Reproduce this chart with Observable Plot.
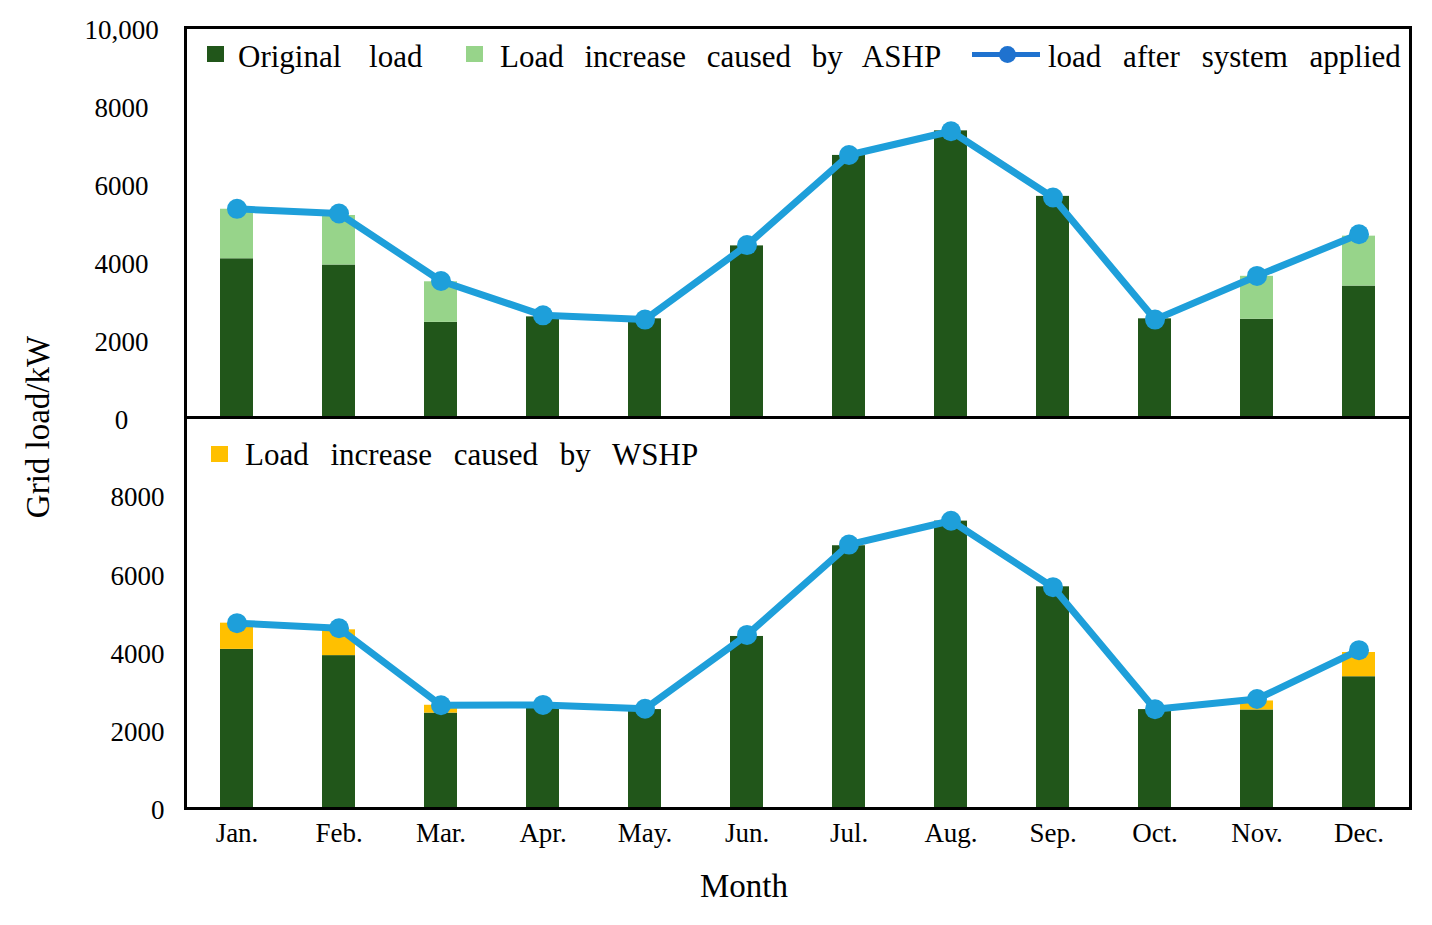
<!DOCTYPE html>
<html>
<head>
<meta charset="utf-8">
<script src="https://cdn.jsdelivr.net/npm/d3@7"></script>
<script src="https://cdn.jsdelivr.net/npm/@observablehq/plot@0.6"></script>
<style>
  html, body { margin: 0; padding: 0; background: #fff; }
  #chart { position: relative; width: 1432px; height: 925px; background: #fff; font-family: 'Liberation Serif', 'DejaVu Serif', serif; color: #000; }
  #chart svg { position: absolute; left: 0; top: 0; }
  .lbl { position: absolute; white-space: nowrap; font-family: 'Liberation Serif', 'DejaVu Serif', serif; }
  .leg { font-size: 31px; line-height: 31px; word-spacing: 13px; }
  .sw { position: absolute; width: 17px; height: 16px; }
</style>
</head>
<body>
<div id="chart"></div>
<script>
// ---- data ----
const months = ["Jan.", "Feb.", "Mar.", "Apr.", "May.", "Jun.", "Jul.", "Aug.", "Sep.", "Oct.", "Nov.", "Dec."];
const originalLoad = [4070, 3910, 2440, 2580, 2530, 4400, 6720, 7350, 5670, 2530, 2520, 3370];
const ashpIncrease = [1270, 1270, 1040, 0, 0, 0, 0, 0, 0, 0, 1100, 1280];
const ashpLoad = [5350, 5230, 3500, 2620, 2510, 4420, 6730, 7340, 5640, 2510, 3630, 4700];
const wshpIncrease = [670, 660, 200, 0, 0, 0, 0, 0, 0, 0, 230, 620];
const wshpLoad = [4740, 4610, 2640, 2650, 2550, 4440, 6750, 7360, 5660, 2540, 2800, 4050];

const topTicks = [0, 2000, 4000, 6000, 8000, 10000];
const bottomTicks = [0, 2000, 4000, 6000, 8000];

const seriesNames = ["Original load", "Load increase caused by ASHP", "Load increase caused by WSHP", "load after system applied"];
const colors = {
  original: "#21561a",
  ashp: "#97d48a",
  wshp: "#ffc000",
  line: "#1e9fda",
  legendLine: "#1f72cf"
};

// ---- tables ----
const topBars = months.flatMap((m, i) => [
  {month: m, series: seriesNames[0], value: originalLoad[i]},
  {month: m, series: seriesNames[1], value: ashpIncrease[i]}
]);
const bottomBars = months.flatMap((m, i) => [
  {month: m, series: seriesNames[0], value: originalLoad[i]},
  {month: m, series: seriesNames[2], value: wshpIncrease[i]}
]);
const topLine = months.map((m, i) => ({month: m, value: ashpLoad[i]}));
const bottomLine = months.map((m, i) => ({month: m, value: wshpLoad[i]}));

const W = 1432, H = 925;
const FONT = "'Liberation Serif', 'DejaVu Serif', serif";
const common = {
  width: W, height: H, marginLeft: 185, marginRight: 22,
  style: {fontFamily: FONT, fontSize: "27px", background: "transparent", overflow: "visible", color: "#000"}
};
const xScale = {domain: months, paddingInner: 0.68, paddingOuter: 0.34, axis: null};
const fmt = d => d === 10000 ? "10,000" : String(d);

const topPlot = Plot.plot({
  ...common,
  marginTop: 27, marginBottom: H - 417,
  x: xScale,
  y: {domain: [0, 10000], axis: null},
  color: {domain: [seriesNames[0], seriesNames[1]], range: [colors.original, colors.ashp]},
  marks: [
    Plot.barY(topBars, {x: "month", y: "value", fill: "series"}),
    Plot.line(topLine, {x: "month", y: "value", stroke: colors.line, strokeWidth: 7}),
    Plot.dot(topLine, {x: "month", y: "value", fill: colors.line, r: 10}),
    Plot.axisY(topTicks, {tickSize: 0, tickPadding: 64, textAnchor: "middle", tickFormat: fmt, label: null, fontSize: 27, dy: 3}),
    Plot.frame({stroke: "#000", strokeWidth: 3})
  ]
});

const bottomPlot = Plot.plot({
  ...common,
  marginTop: 417, marginBottom: H - 808,
  x: xScale,
  y: {domain: [0, 10000], axis: null},
  color: {domain: [seriesNames[0], seriesNames[2]], range: [colors.original, colors.wshp]},
  marks: [
    Plot.barY(bottomBars, {x: "month", y: "value", fill: "series"}),
    Plot.line(bottomLine, {x: "month", y: "value", stroke: colors.line, strokeWidth: 7}),
    Plot.dot(bottomLine, {x: "month", y: "value", fill: colors.line, r: 10}),
    Plot.axisY(bottomTicks, {tickSize: 0, tickPadding: 21, tickFormat: fmt, label: null, fontSize: 27, dy: 2}),
    Plot.axisX({tickSize: 0, tickPadding: 14, label: null, fontSize: 27}),
    Plot.frame({stroke: "#000", strokeWidth: 3})
  ]
});

const chart = document.getElementById("chart");
chart.appendChild(topPlot);
chart.appendChild(bottomPlot);

// ---- legends & titles (HTML overlay) ----
function addSwatch(x, y, color) {
  const d = document.createElement("div");
  d.className = "sw";
  d.style.left = x + "px"; d.style.top = y + "px"; d.style.background = color;
  chart.appendChild(d);
}
function addText(x, y, text, cls, extra) {
  const d = document.createElement("div");
  d.className = "lbl " + (cls || "");
  d.style.left = x + "px"; d.style.top = y + "px";
  d.textContent = text;
  if (extra) Object.assign(d.style, extra);
  chart.appendChild(d);
  return d;
}
addSwatch(207, 46, colors.original);
addText(238, 41, seriesNames[0], "leg", {wordSpacing: "20px"});
addSwatch(466, 46, colors.ashp);
addText(500, 41, seriesNames[1], "leg", {wordSpacing: "13px"});
// line legend
const ll = document.createElement("div");
Object.assign(ll.style, {position: "absolute", left: "972px", top: "52px", width: "68px", height: "5px", background: colors.legendLine});
chart.appendChild(ll);
const ld = document.createElement("div");
Object.assign(ld.style, {position: "absolute", left: "999px", top: "46px", width: "17px", height: "17px", borderRadius: "50%", background: colors.legendLine});
chart.appendChild(ld);
addText(1048, 41, seriesNames[3], "leg", {wordSpacing: "14px"});

addSwatch(211, 446, colors.wshp);
addText(245, 439, seriesNames[2], "leg", {wordSpacing: "14px"});

// axis titles
addText(700, 870, "Month", "", {fontSize: "33px", lineHeight: "33px"});
addText(38, 427, "Grid load/kW", "", {fontSize: "33px", lineHeight: "33px", transform: "translate(-50%, -50%) rotate(-90deg)"});
</script>
</body>
</html>
